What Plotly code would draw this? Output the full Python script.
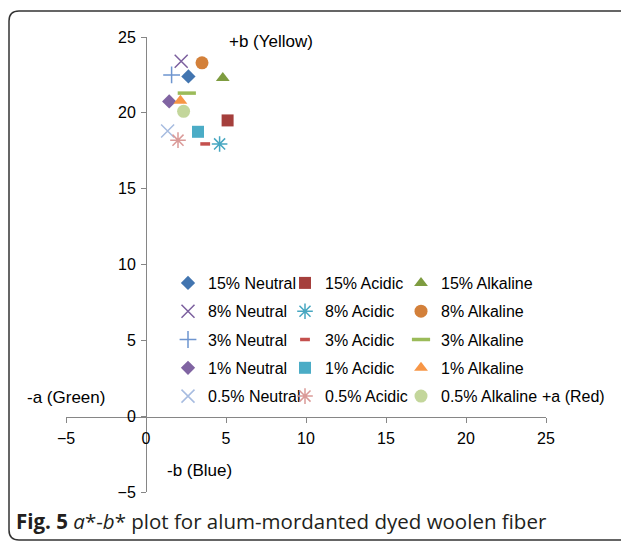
import plotly.graph_objects as go

# ---- data (a*, b*) ----
series_names = ["15% Neutral", "15% Acidic", "15% Alkaline",
                "8% Neutral", "8% Acidic", "8% Alkaline",
                "3% Neutral", "3% Acidic", "3% Alkaline",
                "1% Neutral", "1% Acidic", "1% Alkaline",
                "0.5% Neutral", "0.5% Acidic", "0.5% Alkaline"]
a_values = [2.65, 5.1, 4.8,
            2.2, 4.6, 3.5,
            1.6, 3.7, 2.55,
            1.45, 3.25, 2.15,
            1.35, 2.0, 2.35]
b_values = [22.4, 19.5, 22.3,
            23.4, 17.95, 23.3,
            22.5, 17.95, 21.3,
            20.75, 18.75, 20.8,
            18.8, 18.2, 20.1]
x_ticks = [-5, 0, 5, 10, 15, 20, 25]
y_ticks = [-5, 0, 5, 10, 15, 20, 25]

# ---- styles ----
symbols = ["diamond", "square", "triangle-up",
           "x-thin-open", "asterisk-open", "circle",
           "cross-thin-open", "line-ew-open", "line-ew-open",
           "diamond", "square", "triangle-up",
           "x-thin-open", "asterisk-open", "circle"]
colors = ["#4275B0", "#A53F3C", "#7E9C40",
          "#7B5F9E", "#47A7C1", "#D3803A",
          "#6E95CF", "#C4504D", "#9BBB59",
          "#8064A2", "#4BACC6", "#F79646",
          "#A7BCE0", "#DA9A98", "#C3D69B"]
sizes = [11, 12, 12, 13, 13, 13, 12, 7, 13, 11, 12, 12, 13, 13, 13]

FONT = "Liberation Sans, Arial, sans-serif"
OFF = 8  # page body margin
W, H = 629 - OFF, 544 - OFF
# plot area in screen pixels: x 66..546, y 37..492
L, T = 66 - OFF, 37 - OFF
R, B = W - (546 - OFF), H - (492 - OFF)
PW, PH = W - L - R, H - T - B


def px2x(sx):
    return (sx - OFF - L) / PW


def px2y(sy):
    return (H - B - (sy - OFF)) / PH


fig = go.Figure()
for i, name in enumerate(series_names):
    col = i % 3
    lname = "legend" if col == 0 else f"legend{col + 1}"
    sym = symbols[i]
    lw = 0
    if sym.endswith("-open"):
        lw = 3.5 if sym == "line-ew-open" else 1.5
    fig.add_trace(go.Scatter(
        x=[a_values[i]], y=[b_values[i]], mode="markers", name=name,
        legend=lname, legendgroup=f"g{i}",
        marker=dict(symbol=sym, size=sizes[i], color=colors[i],
                    line=dict(width=lw, color=colors[i])),
    ))

col_x = [168, 285, 401]
legends = {}
for c, xx in enumerate(col_x):
    key = "legend" if c == 0 else f"legend{c + 1}"
    legends[key] = dict(
        orientation="v", x=px2x(xx), y=px2y(339.5), xanchor="left", yanchor="middle",
        tracegroupgap=4.5, bgcolor="rgba(0,0,0,0)",
        font=dict(family=FONT, size=16, color="#000"), itemclick=False,
        borderwidth=0,
    )

axis_common = dict(showgrid=False, zeroline=False, showline=True, linecolor="#868686",
                   linewidth=1, ticks="outside", ticklen=5, tickcolor="#868686",
                   ticklabelstandoff=2,
                   tickfont=dict(family=FONT, size=16, color="#000"), anchor="free")

frame_x0, frame_x1 = px2x(9), px2x(640)
frame_y0, frame_y1 = px2y(540), px2y(11)
rx, ry = 10 / PW, 10 / PH
path = (f"M {frame_x1} {frame_y1} L {frame_x0 + rx} {frame_y1} "
        f"Q {frame_x0} {frame_y1} {frame_x0} {frame_y1 - ry} "
        f"L {frame_x0} {frame_y0 + ry} Q {frame_x0} {frame_y0} {frame_x0 + rx} {frame_y0} "
        f"L {frame_x1} {frame_y0}")


def note(text, sx, sy, size=17):
    return dict(text=text, x=px2x(sx), y=px2y(sy), xref="paper", yref="paper",
                xanchor="left", yanchor="middle", showarrow=False,
                font=dict(family=FONT, size=size, color="#000"))


fig.update_layout(
    width=W, height=H, margin=dict(l=L, r=R, t=T, b=B),
    paper_bgcolor="white", plot_bgcolor="white",
    xaxis=dict(range=[-5, 25], tickvals=x_ticks, position=px2y(417), **axis_common),
    yaxis=dict(range=[-5, 25], tickvals=y_ticks, position=px2x(146), **axis_common),
    shapes=[dict(type="path", xref="paper", yref="paper", path=path,
                 line=dict(color="#333", width=1.5))],
    annotations=[
        note("+b (Yellow)", 227, 42),
        note("-a (Green)", 25, 397),
        note("-b (Blue)", 165, 470),
        note("+a (Red)", 540, 396, 16),
        dict(text="<b>Fig. 5</b> <i>a</i>*-<i>b</i>* plot for alum-mordanted dyed woolen fiber",
             x=px2x(14), y=px2y(521), xref="paper", yref="paper",
             xanchor="left", yanchor="middle", showarrow=False,
             font=dict(family="Open Sans, sans-serif", size=20.5, color="#231F20")),
    ],
    **legends,
)

fig.write_html("out.html")
